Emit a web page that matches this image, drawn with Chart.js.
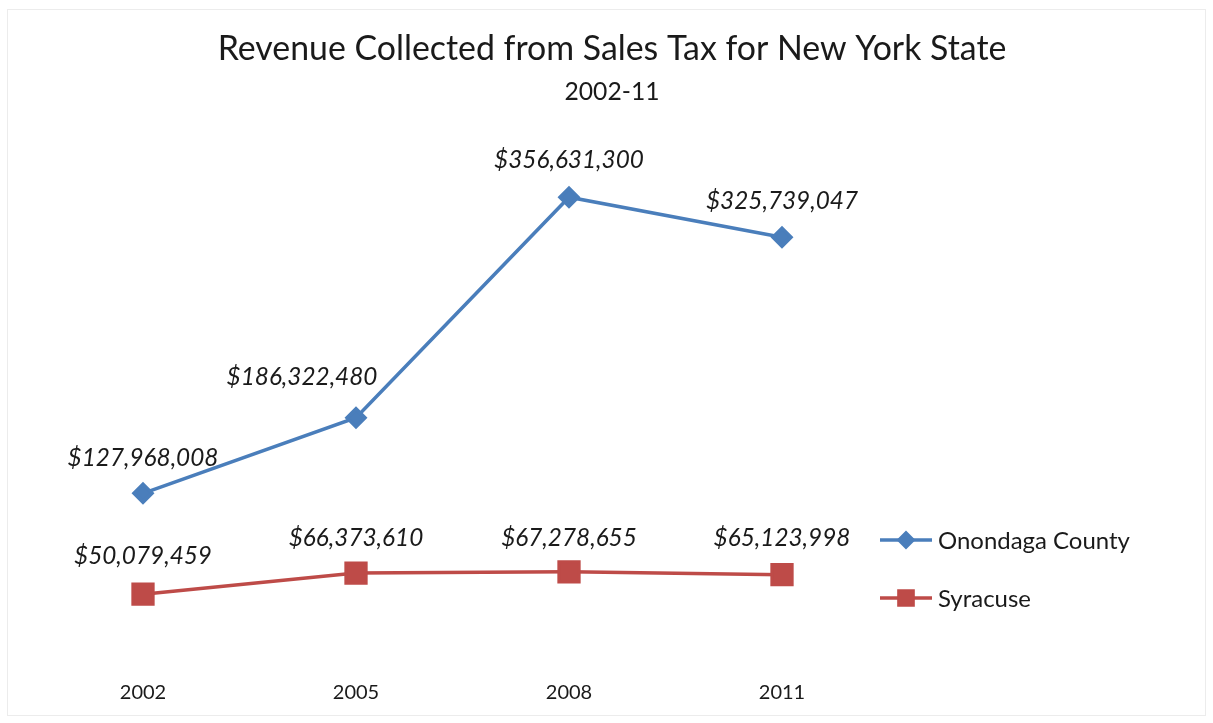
<!DOCTYPE html>
<html>
<head>
<meta charset="utf-8">
<script src="https://cdn.jsdelivr.net/npm/chart.js@4/dist/chart.umd.min.js"></script>
<style>
  html, body { margin: 0; padding: 0; background: #fff; }
  #grafico { display: block; }
</style>
</head>
<body>
<canvas id="grafico" width="1213" height="723"></canvas>
<script>
// Datos
const years = ['2002', '2005', '2008', '2011'];
const onondaga = [127968008, 186322480, 356631300, 325739047];
const syracuse = [50079459, 66373610, 67278655, 65123998];
const seriesNames = ['Onondaga County', 'Syracuse'];

const FAMILY = 'Lato, "Open Sans", sans-serif';
const BLUE = '#4A7EBB';
const RED = '#BE4B48';

// ajusta el tamaño de letra para que el texto mida lo que mide en la imagen
function fitSize(ctx, text, width, style) {
  ctx.font = style + ' 100px ' + FAMILY;
  return 100 * width / ctx.measureText(text).width;
}

const money = v => '$' + v.toLocaleString('en-US');

const extras = {
  id: 'extras',
  beforeDraw(chart) {
    const ctx = chart.ctx;
    ctx.save();
    ctx.strokeStyle = '#ececec';
    ctx.lineWidth = 1;
    ctx.strokeRect(7.5, 9.5, 1198, 706);
    ctx.restore();
  },
  afterDraw(chart) {
    const ctx = chart.ctx;
    ctx.save();
    ctx.fillStyle = '#1a1a1a';
    ctx.textAlign = 'center';
    ctx.textBaseline = 'middle';

    // título
    const t1 = 'Revenue Collected from Sales Tax for New York State';
    ctx.font = fitSize(ctx, t1, 789, 'normal') + 'px ' + FAMILY;
    ctx.fillText(t1, 612, 49);
    ctx.font = fitSize(ctx, '2002-11', 95, 'normal') + 'px ' + FAMILY;
    ctx.fillText('2002-11', 612, 92);

    // etiquetas de datos
    const lblSize = fitSize(ctx, '$127,968,008', 151, 'italic');
    ctx.font = 'italic ' + lblSize + 'px ' + FAMILY;
    const shifts = [
      [[0, -35], [-54, -41], [0, -37], [0, -36]],
      [[0, -38], [0, -35], [0, -34], [0, -37]]
    ];
    chart.data.datasets.forEach((ds, i) => {
      chart.getDatasetMeta(i).data.forEach((pt, j) => {
        const s = shifts[i][j];
        ctx.fillText(money(ds.data[j]), pt.x + s[0], pt.y + s[1]);
      });
    });

    // leyenda
    const legSize = fitSize(ctx, 'Onondaga County', 192, 'normal');
    chart.data.datasets.forEach((ds, i) => {
      const y = 540 + i * 58;
      ctx.strokeStyle = ds.borderColor;
      ctx.lineWidth = 3.5;
      ctx.beginPath();
      ctx.moveTo(880, y);
      ctx.lineTo(932, y);
      ctx.stroke();
      Chart.helpers.drawPoint(ctx, {
        pointStyle: ds.pointStyle,
        radius: i === 0 ? 7 : 10,
        borderWidth: 1
      }, 906, y);
      ctx.fillStyle = ds.backgroundColor;
      ctx.fill();
      ctx.fillStyle = '#1a1a1a';
      ctx.textAlign = 'left';
      ctx.font = legSize + 'px ' + FAMILY;
      ctx.fillText(ds.label, 938, y + 1);
    });
    ctx.restore();
  }
};

new Chart(document.getElementById('grafico'), {
  type: 'line',
  data: {
    labels: years,
    datasets: [
      {
        label: seriesNames[0],
        data: onondaga,
        borderColor: BLUE,
        backgroundColor: BLUE,
        borderWidth: 3.5,
        pointStyle: 'rectRot',
        pointRadius: 9,
        pointHoverRadius: 9,
        tension: 0
      },
      {
        label: seriesNames[1],
        data: syracuse,
        borderColor: RED,
        backgroundColor: RED,
        borderWidth: 3.5,
        pointStyle: 'rect',
        pointRadius: 14,
        pointHoverRadius: 14,
        tension: 0
      }
    ]
  },
  options: {
    responsive: false,
    animation: false,
    devicePixelRatio: 1,
    layout: { padding: { left: 36.5, right: 324.5, top: 141, bottom: 18 } },
    plugins: {
      legend: { display: false },
      title: { display: false },
      tooltip: { enabled: false }
    },
    scales: {
      x: {
        offset: true,
        grid: { display: false, drawTicks: false },
        border: { display: false },
        ticks: { padding: 22, color: '#1a1a1a', font: { family: FAMILY, size: 20 } },
        afterFit: scale => { scale.height = 46; }
      },
      y: {
        display: false,
        min: 0,
        max: 400000000
      }
    }
  },
  plugins: [extras]
});
</script>
</body>
</html>
